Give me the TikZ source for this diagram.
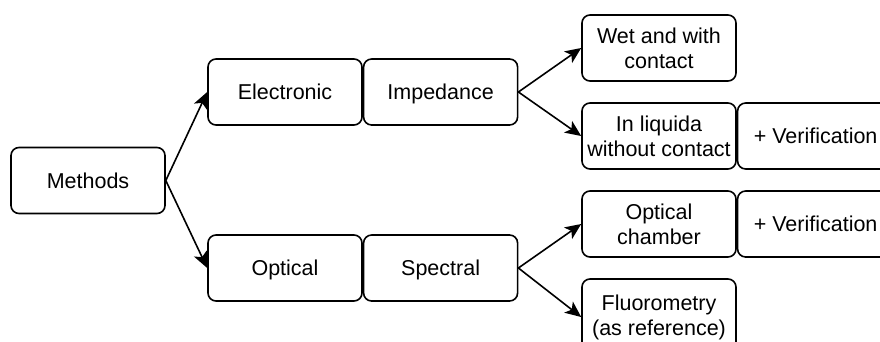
\documentclass[tikz,border=0pt]{standalone}
\usepackage{fontspec}
\setmainfont{Liberation Sans}
\usetikzlibrary{positioning,arrows.meta}

\begin{document}
\begin{tikzpicture}[x=1pt,y=-1pt,
            box/.style={draw,line width=1.6pt,rounded corners=8pt,
                minimum width=154pt,minimum height=66pt,align=center,
                inner sep=1pt,font=\fontsize{21.5}{25}\selectfont},
            oneline/.style={box,text height=15.5pt,text depth=0pt},
            widebox/.style={oneline,minimum width=170pt},
            link/.style={-{Stealth[length=16pt,width=14pt,inset=4pt]},line width=1.6pt}]
            \useasboundingbox (0,0) rectangle (880,341);

            % first and second level
            \node[oneline] (methods) at (88,180.5) {Methods};
            \node[oneline] (electronic) at (285,92) {Electronic};
            \node[oneline,right=0pt of electronic] (impedance) {Impedance};
            \node[oneline] (optical) at (285,268) {Optical};
            \node[oneline,right=0pt of optical] (spectral) {Spectral};

            % leaves
            \node[box] (wet) at (659,48) {Wet and with\\contact};
            \node[box] (liquid) at (659,136) {In liquida\\without contact};
            \node[widebox,right=0pt of liquid] (verifA) {+ Verification\hspace*{14pt}};
            \node[box] (chamber) at (659,224) {Optical\\chamber};
            \node[widebox,right=0pt of chamber] (verifB) {+ Verification\hspace*{14pt}};
            \node[box,minimum height=76pt] (fluoro) at (659,317) {Fluorometry\\(as reference)};

            \draw[link] (methods.east) -- (electronic.west);
            \draw[link] (methods.east) -- (optical.west);
            \draw[link] (impedance.east) -- (wet.west);
            \draw[link] (impedance.east) -- (liquid.west);
            \draw[link] (spectral.east) -- (chamber.west);
            \draw[link] (spectral.east) -- (fluoro.west);

        \end{tikzpicture}
\end{document}
